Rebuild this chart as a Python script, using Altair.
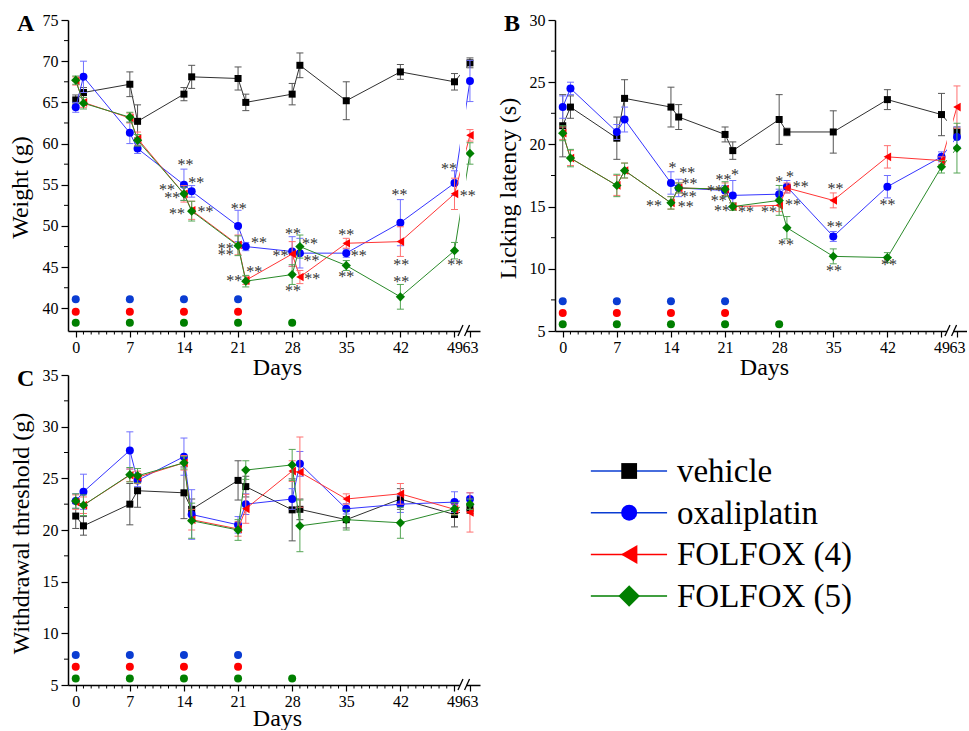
import altair as alt
import pandas as pd

FONT = "Liberation Serif"

DAYS = [0, 1, 7, 8, 14, 15, 21, 22, 28, 29, 35, 42, 49, 63]
SERIES = ["vehicle", "oxaliplatin", "FOLFOX (4)", "FOLFOX (5)"]
POINT_COLORS = ["#000000", "#0000ff", "#ff0000", "#007f00"]
LINE_COLORS = ["#303030", "#3535ff", "#ff3535", "#2a8a2a"]
ERR_COLORS = ["#555555", "#7070ff", "#ff7070", "#55a555"]
SHAPES = ["square", "circle", "triangle-left", "diamond"]
PT_SIZES = [49, 64, 75, 86]
LEG_SIZES = [250, 256, 361, 460]
DOSE_COLORS = ["#0a3cd2", "#ff0000", "#007f00"]
X_TICKS = [0, 7, 14, 21, 28, 35, 42, 49, 51]
X_MINOR = [d for d in range(1, 49) if d % 7 != 0]

# dosing days (oxaliplatin, FOLFOX (4), FOLFOX (5))
DOSE_DAYS = [[0, 7, 14, 21], [0, 7, 14, 21], [0, 7, 14, 21, 28]]

# ---- Panel A: weight (g)
weight_vehicle = [65.3, 66.2, 67.2, 62.7, 66.0, 68.1, 67.9, 65.0, 66.0, 69.5, 65.2, 68.7, 67.5, 69.8]
weight_oxali = [64.4, 68.1, 61.3, 59.4, 55.0, 54.2, 50.0, 47.5, 46.9, 46.7, 46.7, 50.4, 55.2, 67.6]
weight_f4 = [67.6, 65.0, 63.1, 60.6, 53.9, 51.9, 47.7, 43.4, 46.6, 43.8, 47.9, 48.1, 53.9, 61.0]
weight_f5 = [67.7, 64.9, 63.2, 60.4, 53.9, 51.8, 47.6, 43.3, 44.1, 47.5, 45.2, 41.4, 47.0, 58.8]
weight_err_vehicle = [0.6, 0.6, 1.5, 2.0, 0.8, 1.4, 1.4, 1.0, 1.3, 1.5, 2.3, 0.9, 1.0, 0.6]
weight_err_oxali = [0.6, 1.9, 1.3, 0.6, 1.9, 0.7, 1.9, 0.5, 1.8, 1.8, 0.5, 2.8, 1.5, 2.5]
weight_err_f4 = [0.5, 0.6, 0.6, 0.8, 1.0, 1.1, 1.2, 0.5, 1.5, 0.8, 0.6, 1.8, 1.9, 0.7]
weight_err_f5 = [0.5, 0.7, 0.6, 0.7, 0.8, 1.2, 1.2, 0.7, 1.2, 1.4, 0.6, 1.5, 1.0, 1.3]
weight_dose_levels = [41.1, 39.6, 38.25]
ann_a_x = [14.2, 15.6, 11.8, 12.5, 13.1, 16.8, 21.1, 23.7, 19.4, 19.4, 23.1, 20.5, 28.1, 30.3,
           26.5, 30.5, 30.6, 28.1, 35.0, 36.6, 35.0, 41.9, 42.1, 42.1, 48.3, 50.7, 49.1]
ann_a_y = [57.7, 55.4, 54.6, 53.6, 51.7, 51.9, 52.3, 48.2, 47.5, 46.7, 44.7, 43.6, 49.3, 48.1,
           46.6, 46.0, 43.8, 42.4, 49.1, 46.6, 44.1, 54.0, 45.5, 43.5, 57.1, 53.9, 45.5]
ann_a_t = ["**"] * len(ann_a_x)

# ---- Panel B: licking latency (s)
lick_vehicle = [21.5, 23.0, 20.5, 23.7, 23.0, 22.2, 20.8, 19.5, 22.0, 21.0, 21.0, 23.6, 22.4, 21.0]
lick_oxali = [23.0, 24.5, 21.0, 22.0, 16.9, 16.5, 16.3, 15.9, 16.0, 16.6, 12.6, 16.6, 19.0, 20.6]
lick_f4 = [20.9, 18.9, 16.7, 17.9, 15.3, 16.5, 16.4, 15.0, 15.1, 16.5, 15.5, 19.0, 18.7, 23.0]
lick_f5 = [20.9, 18.9, 16.7, 17.9, 15.3, 16.5, 16.4, 15.0, 15.5, 13.3, 11.0, 10.9, 18.2, 19.7]
lick_err_vehicle = [2.5, 0.9, 1.7, 1.5, 1.6, 1.0, 0.6, 0.7, 2.0, 0.3, 1.7, 0.8, 1.7, 0.4]
lick_err_oxali = [0.9, 0.5, 0.6, 1.0, 0.9, 0.7, 0.4, 1.2, 0.4, 0.5, 0.4, 0.9, 0.4, 0.8]
lick_err_f4 = [0.5, 0.6, 0.8, 0.6, 0.5, 0.4, 0.5, 0.3, 0.5, 0.4, 0.6, 0.9, 0.3, 1.7]
lick_err_f5 = [0.6, 0.7, 0.9, 0.6, 0.5, 0.4, 0.6, 0.3, 1.2, 0.9, 0.6, 0.4, 0.5, 2.0]
lick_dose_levels = [7.4, 6.45, 5.55]
ann_b_x = [14.2, 16.1, 16.4, 16.3, 11.8, 15.9, 20.8, 22.3, 19.7, 20.2, 20.6, 23.7, 26.7, 28.0,
           29.4, 30.8, 29.8, 28.9, 35.3, 35.2, 35.1, 42.0, 42.2]
ann_b_y = [18.3, 17.9, 17.0, 15.9, 15.2, 15.1, 17.3, 17.7, 16.4, 15.6, 14.8, 14.7, 14.7, 17.1,
           17.55, 16.7, 15.3, 12.1, 16.6, 13.5, 10.0, 15.3, 10.45]
ann_b_t = ["*", "**", "**", "**", "**", "**", "**", "*", "**", "**", "**", "**", "**", "*",
           "*", "**", "**", "**", "**", "**", "**", "**", "**"]

# ---- Panel C: withdrawal threshold (g)
thr_vehicle = [21.35, 20.4, 22.5, 23.8, 23.6, 22.0, 24.8, 24.2, 21.95, 22.0, 21.0, 23.0, 21.5, 22.1]
thr_oxali = [22.8, 23.7, 27.7, 24.8, 27.1, 21.5, 20.5, 22.5, 23.0, 26.4, 22.05, 22.5, 22.7, 23.0]
thr_f4 = [22.7, 22.4, 25.3, 25.1, 26.5, 21.0, 20.1, 22.05, 25.7, 25.6, 23.0, 23.5, 22.0, 21.7]
thr_f5 = [22.8, 22.4, 25.35, 25.25, 26.5, 20.9, 20.0, 25.8, 26.3, 20.4, 21.0, 20.7, 22.05, 22.5]
thr_err_vehicle = [1.2, 0.9, 2.0, 1.6, 2.5, 1.0, 1.9, 1.0, 3.0, 1.0, 0.8, 1.0, 1.2, 0.5]
thr_err_oxali = [0.7, 1.7, 1.8, 0.6, 1.8, 2.4, 0.8, 1.0, 1.0, 1.2, 0.5, 0.8, 1.0, 0.6]
thr_err_f4 = [0.7, 0.8, 0.6, 0.6, 0.7, 1.0, 0.7, 1.4, 1.0, 3.4, 0.5, 1.0, 0.5, 1.9]
thr_err_f5 = [0.7, 1.0, 0.7, 0.7, 0.6, 1.7, 1.0, 0.9, 1.5, 2.5, 1.0, 1.5, 0.6, 0.5]
thr_dose_levels = [7.9, 6.76, 5.64]


def xpos(d):
    # broken axis: day 63 is drawn just after the break
    return d if d <= 49 else 51


W = 412


def panel(vals, errs, ydom, ymaj, ymin, dose_levels, ann_x, ann_y, ann_t,
          ytitle, letter, h, ytx, yty, xty):
    xs = alt.Scale(domain=[-1, 52.3], nice=False, zero=False)
    ys = alt.Scale(domain=ydom, nice=False, zero=False)
    xaxis = alt.Axis(values=X_TICKS, format="d",
                     labelExpr="datum.value == 51 ? '63' : datum.label",
                     title="Days", titleFont=FONT, titleFontSize=24, titleFontWeight="normal",
                     titleColor="black", titleBaseline="alphabetic", titleY=xty, titleX=W / 2 + 3,
                     labelFont=FONT, labelFontSize=16, labelColor="black", labelPadding=2,
                     labelOverlap=False, labelFlush=False, tickSize=6, tickColor="black",
                     tickWidth=1.2, domainColor="black", domainWidth=1.5, grid=False)
    yaxis = alt.Axis(values=ymaj, format="d", title=ytitle, titleFont=FONT, titleFontSize=24,
                     titleFontWeight="normal", titleColor="black", titleAngle=270,
                     titleBaseline="alphabetic", titleAlign="center", titleX=ytx, titleY=yty,
                     labelFont=FONT, labelFontSize=16, labelColor="black", labelPadding=3,
                     labelOverlap=False, labelFlush=False, tickSize=7, tickColor="black",
                     tickWidth=1.2, domainColor="black", domainWidth=1.5, grid=False)

    def X(f):
        return alt.X(f, type="quantitative", scale=xs, axis=xaxis)

    def Y(f):
        return alt.Y(f, type="quantitative", scale=ys, axis=yaxis)

    layers = []
    pos = [xpos(d) for d in DAYS]
    for i, s in enumerate(SERIES):
        df = pd.DataFrame({
            "pos": pos,
            "v": vals[i],
            "lo": [a - b for a, b in zip(vals[i], errs[i])],
            "hi": [a + b for a, b in zip(vals[i], errs[i])],
        })
        caps = pd.DataFrame({"pos": pos + pos, "c": list(df["lo"]) + list(df["hi"])})
        layers.append(alt.Chart(df).mark_line(color=LINE_COLORS[i], strokeWidth=1).encode(
            x=X("pos"), y=Y("v"), order="pos:Q"))
        layers.append(alt.Chart(df).mark_rule(color=ERR_COLORS[i], strokeWidth=1).encode(
            x=X("pos"), y=Y("lo"), y2="hi"))
        layers.append(alt.Chart(caps).mark_tick(orient="horizontal", size=7, thickness=1,
                                                color=ERR_COLORS[i], opacity=1).encode(
            x=X("pos"), y=Y("c")))
        layers.append(alt.Chart(df).mark_point(shape=SHAPES[i], filled=True, size=PT_SIZES[i],
                                               color=POINT_COLORS[i], opacity=1).encode(
            x=X("pos"), y=Y("v")))

    # axis break: gap in lines and axis, then the two slashes
    brk = pd.DataFrame({"b1": [49.7], "b2": [50.5]})
    layers.append(alt.Chart(brk).mark_rect(color="white").encode(
        x=X("b1"), x2="b2", y=alt.value(-2), y2=alt.value(h + 2)))
    slashes = pd.DataFrame({"s1": [49.45, 50.3], "s2": [50.1, 50.95]})
    layers.append(alt.Chart(slashes).mark_rule(color="black", strokeWidth=1.3).encode(
        x=X("s1"), x2="s2", y=alt.value(h + 5), y2=alt.value(h - 6)))

    # minor ticks
    layers.append(alt.Chart(pd.DataFrame({"m": X_MINOR})).mark_rule(color="black", strokeWidth=1).encode(
        x=X("m"), y=alt.value(h), y2=alt.value(h + 3.5)))
    layers.append(alt.Chart(pd.DataFrame({"m": ymin})).mark_rule(color="black", strokeWidth=1).encode(
        y=Y("m"), x=alt.value(-4), x2=alt.value(0)))

    # dosing dots
    drows = []
    for k, (days, lvl) in enumerate(zip(DOSE_DAYS, dose_levels)):
        for d in days:
            drows.append({"g": SERIES[k + 1], "pos": xpos(d), "lvl": lvl})
    layers.append(alt.Chart(pd.DataFrame(drows)).mark_point(shape="circle", filled=True, size=64,
                                                            opacity=1).encode(
        x=X("pos"), y=Y("lvl"),
        color=alt.Color("g:N", scale=alt.Scale(domain=SERIES[1:], range=DOSE_COLORS), legend=None)))

    # significance marks
    if ann_x:
        adf = pd.DataFrame({"x": ann_x, "y": ann_y, "t": ann_t})
        layers.append(alt.Chart(adf).mark_text(font=FONT, fontSize=16, color="#333333",
                                               baseline="alphabetic", dy=7, align="center").encode(
            x=X("x"), y=Y("y"), text="t:N"))

    return alt.layer(*layers).properties(
        width=W, height=h,
        title=alt.TitleParams(text=letter, anchor="start", frame="group", orient="top", offset=0,
                              dx=-51, dy=43, fontSize=24, fontWeight="bold", font=FONT,
                              color="black", baseline="alphabetic"))


A = panel([weight_vehicle, weight_oxali, weight_f4, weight_f5],
          [weight_err_vehicle, weight_err_oxali, weight_err_f4, weight_err_f5],
          [37.25, 75], [40, 45, 50, 55, 60, 65, 70, 75], [42.5, 47.5, 52.5, 57.5, 62.5, 67.5, 72.5],
          weight_dose_levels, ann_a_x, ann_a_y, ann_a_t, "Weight (g)", "A", 311, -41, 167, 43)

B = panel([lick_vehicle, lick_oxali, lick_f4, lick_f5],
          [lick_err_vehicle, lick_err_oxali, lick_err_f4, lick_err_f5],
          [5, 30], [5, 10, 15, 20, 25, 30], [7.5, 12.5, 17.5, 22.5, 27.5],
          lick_dose_levels, ann_b_x, ann_b_y, ann_b_t, "Licking latency (s)", "B", 311, -40, 168, 43)

C = panel([thr_vehicle, thr_oxali, thr_f4, thr_f5],
          [thr_err_vehicle, thr_err_oxali, thr_err_f4, thr_err_f5],
          [5, 35], [5, 10, 15, 20, 25, 30, 35], [7.5, 12.5, 17.5, 22.5, 27.5, 32.5],
          thr_dose_levels, [], [], [], "Withdrawal threshold (g)", "C", 310, -40, 158, 40)

# ---- legend panel
lxs = alt.Scale(domain=[0, 1], nice=False, zero=False)
lys = alt.Scale(domain=[-2.302, 5.132], nice=False, zero=False, reverse=True)
leg = pd.DataFrame({"series": SERIES, "row": [0, 1, 2, 3]})
leg_layers = [
    alt.Chart(leg).mark_rule(strokeWidth=1.5).encode(
        x=alt.XDatum(0.087, type="quantitative", scale=lxs, axis=None),
        x2=alt.X2Datum(0.272),
        y=alt.Y("row:Q", scale=lys, axis=None),
        color=alt.Color("series:N", scale=alt.Scale(domain=SERIES, range=POINT_COLORS), legend=None)),
]
for i, s in enumerate(SERIES):
    leg_layers.append(alt.Chart(leg[leg["series"] == s]).mark_point(
        shape=SHAPES[i], filled=True, size=LEG_SIZES[i], color=POINT_COLORS[i], opacity=1).encode(
        x=alt.XDatum(0.18, type="quantitative", scale=lxs, axis=None),
        y=alt.Y("row:Q", scale=lys, axis=None)))
leg_layers.append(alt.Chart(leg).mark_text(align="left", baseline="middle", font=FONT, fontSize=33,
                                           color="black", dy=1).encode(
    x=alt.XDatum(0.296, type="quantitative", scale=lxs, axis=None),
    y=alt.Y("row:Q", scale=lys, axis=None),
    text="series:N"))
L = alt.layer(*leg_layers).properties(width=W, height=310)

chart = alt.concat(A, B, C, L, columns=2, spacing={"row": 44, "column": 75}, bounds="flush").properties(
    padding={"left": 8, "top": 12, "right": 0, "bottom": 0}
).configure(font=FONT).configure_view(stroke=None)

chart.save("out.html", embed_options={"renderer": "svg", "actions": False})
